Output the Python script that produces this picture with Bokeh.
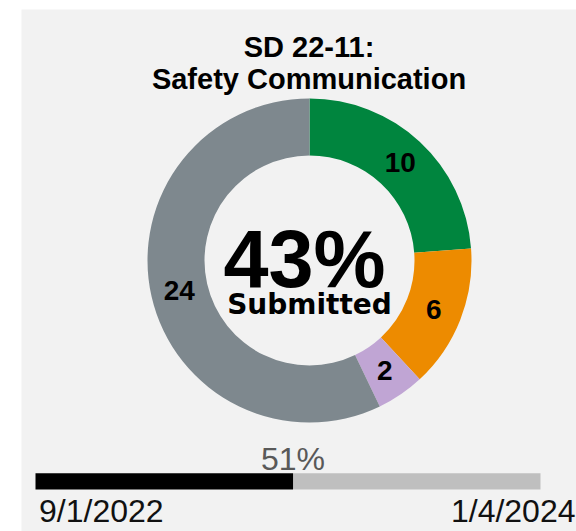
import numpy as np
from bokeh.plotting import figure
from bokeh.models import Range1d
from bokeh.embed import file_html
from bokeh.resources import INLINE
from bokeh.core.properties import value

# ---------------- data ----------------
title_lines = ["SD 22-11:", "Safety Communication"]
categories = ["Submitted", "In Review", "Other", "Not Submitted"]
counts = [10, 6, 2, 24]
slice_colors = ["#00853E", "#ED8B00", "#C0A5D4", "#7E888E"]
center_value = "43%"
center_label = "Submitted"
progress_pct = 51
start_date = "9/1/2022"
end_date = "1/4/2024"

# ---------------- layout helpers ----------------
PAGE_H = 531


def sy(v):
    """screen y (px from picture top) -> data y"""
    return PAGE_H - v


p = figure(width=576, height=531,
           x_range=Range1d(21, 576), y_range=Range1d(0, 522),
           output_backend="svg", toolbar_location=None,
           x_axis_location=None, y_axis_location=None,
           min_border_left=21, min_border_top=9,
           min_border_right=0, min_border_bottom=0,
           background_fill_color="#F2F2F2", border_fill_color="white",
           outline_line_color=None)
p.grid.visible = False

# ---------------- donut ----------------
cx, cy = 309, sy(260)
r_out, r_in = 162, 105
r_lbl = (r_out + r_in) / 2

vals = np.array(counts, dtype=float)
angles = vals / vals.sum() * 2 * np.pi
starts = np.pi / 2 - np.concatenate([[0], np.cumsum(angles)[:-1]])
ends = starts - angles

p.annular_wedge(x=cx, y=cy, inner_radius=r_in, outer_radius=r_out,
                start_angle=list(starts), end_angle=list(ends),
                direction="clock", fill_color=slice_colors, line_color=None)

mids = (starts + ends) / 2
p.text(x=list(cx + r_lbl * np.cos(mids)), y=list(cy + r_lbl * np.sin(mids)),
       text=[str(c) for c in counts],
       text_font=value("Liberation Sans"), text_font_size="28px",
       text_font_style="bold", text_align="center", text_baseline="middle",
       text_color="black")

# center text
p.text(x=[304], y=[sy(258.3)], text=[center_value],
       text_font=value("Liberation Sans"), text_font_size="81px",
       text_font_style="bold", text_align="center", text_baseline="middle",
       text_color="black")
p.text(x=[309], y=[sy(304.3)], text=[center_label],
       text_font=value("DejaVu Sans"), text_font_size="28px",
       text_font_style="bold", text_align="center", text_baseline="middle",
       text_color="black")

# title
p.text(x=[308.5, 308.5], y=[sy(46.4), sy(78.8)], text=title_lines,
       text_font=value("Liberation Sans"), text_font_size="29px",
       text_font_style="bold", text_align="center", text_baseline="middle",
       text_color="black")

# ---------------- progress bar ----------------
bar_x0, bar_x1 = 35, 540
bar_yc, bar_h = sy((472.7 + 489) / 2), 16.3
bar_mid = bar_x0 + (bar_x1 - bar_x0) * progress_pct / 100

p.hbar(y=[bar_yc], left=[bar_mid], right=[bar_x1], height=bar_h,
       fill_color="#BFBFBF", line_color=None)
p.hbar(y=[bar_yc], left=[bar_x0], right=[bar_mid], height=bar_h,
       fill_color="black", line_color=None)

p.text(x=[bar_mid], y=[sy(458.7)], text=[f"{progress_pct}%"],
       text_font=value("Liberation Sans"), text_font_size="32px",
       text_align="center", text_baseline="middle", text_color="#595959")

p.text(x=[38.5], y=[sy(510.5)], text=[start_date],
       text_font=value("Liberation Sans"), text_font_size="32px",
       text_align="left", text_baseline="middle", text_color="#111111")
p.text(x=[575], y=[sy(510.5)], text=[end_date],
       text_font=value("Liberation Sans"), text_font_size="32px",
       text_align="right", text_baseline="middle", text_color="#111111")

open("out.html", "w").write(file_html(p, INLINE))
